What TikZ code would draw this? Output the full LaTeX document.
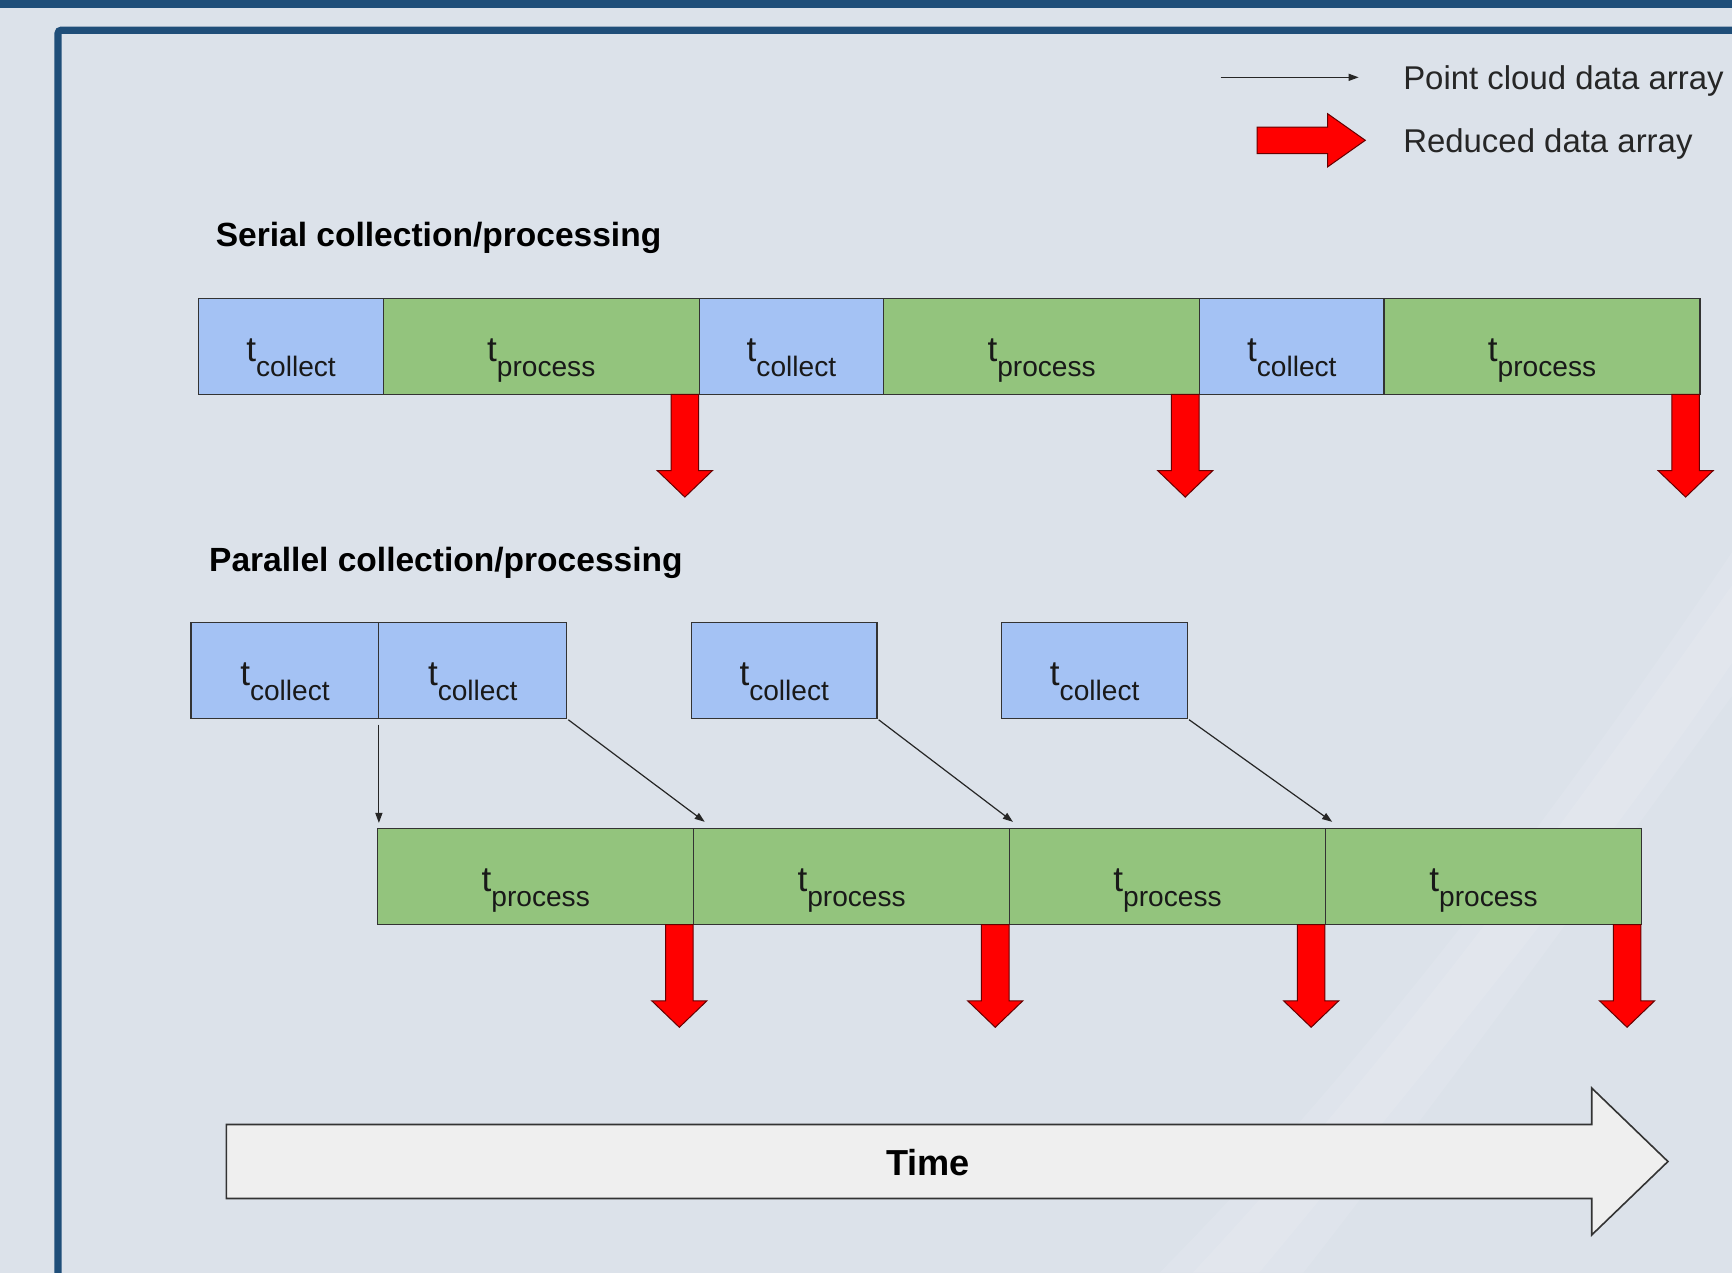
\documentclass[tikz,border=0pt]{standalone}
\usepackage{fontspec}
\setmainfont{Liberation Sans}
\usepackage{tikz}
\usetikzlibrary{positioning,arrows.meta}

\definecolor{slidebg}{HTML}{DCE2EA}
\definecolor{framecol}{HTML}{1F4E79}
\definecolor{collectcol}{HTML}{A4C2F4}
\definecolor{processcol}{HTML}{93C47D}
\definecolor{timecol}{HTML}{EFEFEF}
\definecolor{reducedcol}{HTML}{FF0000}
\newcommand\pxu{0.55pt}
\newcommand\tlabel[1]{{\fontsize{17.5}{18}\selectfont t}\raisebox{-7.4pt}{\fontsize{14}{14}\selectfont #1}}

\begin{document}
\begin{tikzpicture}[x=\pxu,y=-\pxu,
  tbox/.style n args={2}{#1,draw=black!80,line width=0.6pt,rectangle,minimum width=#2*\pxu,minimum height=87*\pxu,inner sep=0pt,outer sep=0pt,text height=17pt,text depth=1.6pt,text=black!90},
  collect/.style={tbox={fill=collectcol}{#1}},
  process/.style={tbox={fill=processcol}{#1}},
  reduced/.style={fill=reducedcol,draw=black!60!red,line width=0.5pt,line join=miter},
  flow/.style={draw=black!85,line width=0.6pt,-{Triangle[length=5pt,width=3.5pt]}},
  title/.style={font=\bfseries\fontsize{16.7}{20}\selectfont,inner sep=0pt},
  legend/.style={font=\fontsize{16.4}{20}\selectfont,text=black!85,inner sep=0pt}]
\useasboundingbox (0,0) rectangle (1568,1152);
\clip (0,0) rectangle (1568,1152);
\fill[slidebg] (0,0) rectangle (1568,1152);
\fill[white,opacity=0.1] (1568,500) .. controls (1420,720) and (1240,960) .. (1050,1152) -- (1180,1152) .. controls (1330,960) and (1480,750) .. (1568,630) -- cycle;
\fill[white,opacity=0.1] (1568,530) .. controls (1420,740) and (1260,960) .. (1080,1152) -- (1140,1152) .. controls (1300,960) and (1460,760) .. (1568,600) -- cycle;
\fill[framecol] (0,0) rectangle (1568,7.3);
\draw[framecol,line width=6.5*\pxu,rounded corners=3*\pxu] (1600,27.3) -- (52.5,27.3) -- (52.5,1200);

\coordinate (k1) at (1105,70);
\coordinate (k2) at (1230,70);
\draw[flow] (k1) -- (k2);
\draw[reduced] (1138,115) -- (1202,115) -- (1202,103) -- (1236,127) -- (1202,151) -- (1202,139) -- (1138,139) -- cycle;
\node[legend,anchor=base west] (l1) at (1270,81) {Point cloud data array};
\node[legend,anchor=base west] (l2) at (1270,138) {Reduced data array};

\node[title,anchor=base west] (ser) at (195,223) {Serial collection/processing};
\node[collect=167,anchor=west] (s1) at (180,313.5) {\tlabel{collect}};
\node[process=286,right=0pt of s1] (s2) {\tlabel{process}};
\node[collect=167,right=0pt of s2] (s3) {\tlabel{collect}};
\node[process=286,right=0pt of s3] (s4) {\tlabel{process}};
\node[collect=167,right=0pt of s4] (s5) {\tlabel{collect}};
\node[process=286,right=0pt of s5] (s6) {\tlabel{process}};

\node[title,anchor=base west] (par) at (189,517) {Parallel collection/processing};
\node[collect=170,anchor=west] (c1) at (173,607) {\tlabel{collect}};
\node[collect=170,right=0pt of c1] (c2) {\tlabel{collect}};
\node[collect=168,anchor=west] (c3) at (626,607) {\tlabel{collect}};
\node[collect=168,anchor=west] (c4) at (907,607) {\tlabel{collect}};
\node[process=286,anchor=west] (p1) at (342,793.5) {\tlabel{process}};
\node[process=286,right=0pt of p1] (p2) {\tlabel{process}};
\node[process=286,right=0pt of p2] (p3) {\tlabel{process}};
\node[process=286,right=0pt of p3] (p4) {\tlabel{process}};

\draw[flow,shorten <=3pt,shorten >=2.75pt] (c1.south east) -- (c1.south east |- p1.north);
\foreach \a/\b/\d in {c2/p2/10,c3/p3/3,c4/p4/6}
  \draw[flow,shorten <=1pt] (\a.south east) -- ([xshift=\d*\pxu,yshift=6*\pxu]\b.north west);

\foreach \n in {s2,s4,s6,p1,p2,p3,p4}
  \draw[reduced] ([xshift=-13*\pxu]\n.south east) ++(-12.5,0) -- ++(0,69) -- ++(-12.5,0) -- ++(25,24) -- ++(25,-24) -- ++(-12.5,0) -- ++(0,-69) -- cycle;

\draw[fill=timecol,draw=black!80,line width=0.8pt] (205,1018) -- (1441,1018) -- (1441,985) -- (1510,1051.5) -- (1441,1118) -- (1441,1085) -- (205,1085) -- cycle;
\node[font=\bfseries\fontsize{18}{22}\selectfont,anchor=base] (time) at (840,1064) {Time};
\end{tikzpicture}
\end{document}
